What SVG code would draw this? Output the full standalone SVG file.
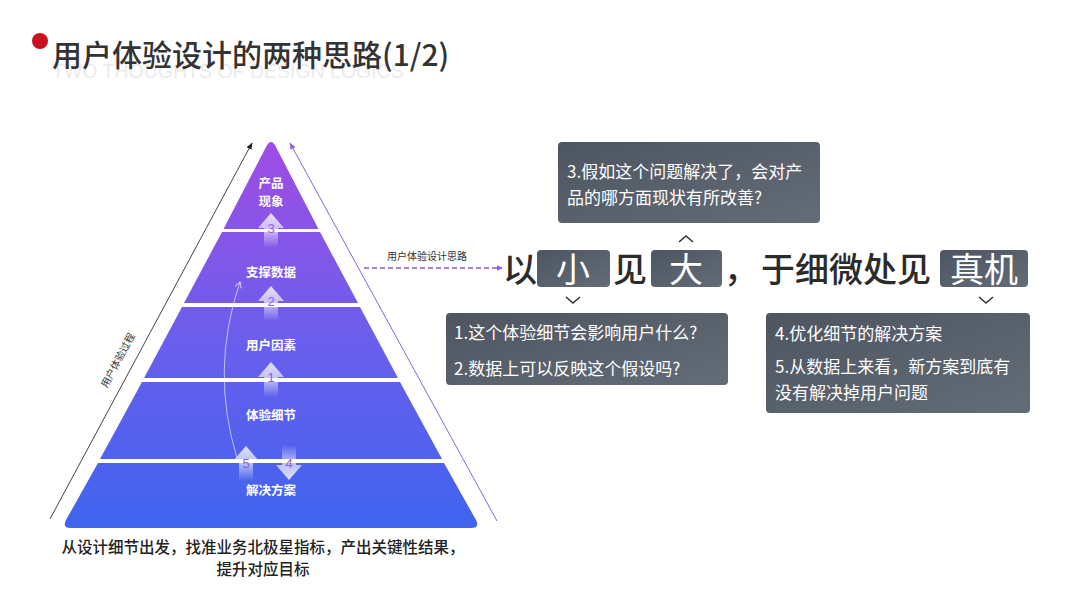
<svg xmlns="http://www.w3.org/2000/svg" width="1080" height="608" viewBox="0 0 1080 608">
<defs>
<linearGradient id="pyr" gradientUnits="userSpaceOnUse" x1="0" y1="140" x2="0" y2="528">
<stop offset="0" stop-color="#a04ce4"/>
<stop offset="0.5" stop-color="#6c5eec"/>
<stop offset="1" stop-color="#3f64ef"/>
</linearGradient>
<linearGradient id="box" x1="0" y1="0" x2="1" y2="1">
<stop offset="0" stop-color="#4d5561"/>
<stop offset="1" stop-color="#646c78"/>
</linearGradient>
<linearGradient id="upfade" x1="0" y1="0" x2="0" y2="1">
<stop offset="0" stop-color="#ffffff" stop-opacity="0.8"/>
<stop offset="0.5" stop-color="#ffffff" stop-opacity="0.6"/>
<stop offset="1" stop-color="#ffffff" stop-opacity="0"/>
</linearGradient>
<linearGradient id="downfade" x1="0" y1="1" x2="0" y2="0">
<stop offset="0" stop-color="#ffffff" stop-opacity="0.8"/>
<stop offset="0.5" stop-color="#ffffff" stop-opacity="0.6"/>
<stop offset="1" stop-color="#ffffff" stop-opacity="0"/>
</linearGradient>
<marker id="blackhead" viewBox="0 0 10 10" refX="9" refY="5" markerWidth="7" markerHeight="7" orient="auto">
<path d="M0,1 L10,5 L0,9 Z" fill="#222"/>
</marker>
<marker id="purplehead" viewBox="0 0 10 10" refX="9" refY="5" markerWidth="7" markerHeight="7" orient="auto">
<path d="M0,1 L10,5 L0,9 Z" fill="#8a64dc"/>
</marker>
<marker id="dashhead" viewBox="0 0 10 10" refX="9" refY="5" markerWidth="4" markerHeight="4" orient="auto">
<path d="M0,0 L10,5 L0,10 Z" fill="#8b5ce8"/>
</marker>
<marker id="openhead" viewBox="0 0 10 10" refX="8" refY="5" markerWidth="8" markerHeight="8" orient="auto">
<path d="M1,1 L8,5 L1,9" fill="none" stroke="#ffffff" stroke-opacity="0.7" stroke-width="1.2"/>
</marker>
</defs>
<style>
.cjk{font-family:"Noto Sans CJK SC","Liberation Sans",sans-serif;}
.band{fill:url(#pyr);}
.blabel{font-size:12.5px;fill:#ffffff;text-anchor:middle;font-weight:700;}
.num{font-size:13px;fill:#8a5fe0;text-anchor:middle;font-family:"Liberation Sans",sans-serif;}
.boxr{fill:url(#box);}
.boxt{font-size:17px;fill:#ffffff;}
.big{font-size:34px;fill:#2b2b2b;font-weight:500;}
.bigw{font-size:34px;fill:#ffffff;text-anchor:middle;}
.chev{fill:none;stroke:#333;stroke-width:1.6;}
</style>
<rect width="1080" height="608" fill="#ffffff"/>

<g id="title">
<text x="52" y="78" font-family="Liberation Sans, sans-serif" font-size="19.5" fill="#ebebeb">TWO THOUGHTS OF DESIGN LOGICS</text>
<circle cx="40" cy="41" r="8" fill="#c8101e"/>
<text class="cjk" x="52" y="66" font-size="30" font-weight="500" fill="#333333">用户体验设计的两种思路(1/2)</text>
</g>

<g id="pyramid">
<g id="band-top">
<path class="band" d="M266,147 Q271,137 276,147 L318.5,229 L223.5,229 Z"/>
<text class="cjk blabel" x="271" y="188">产品</text>
<text class="cjk blabel" x="271" y="206">现象</text>
</g>
<g id="band-data">
<path class="band" d="M222,232 L320,232 L358,303 L184,303 Z"/>
<text class="cjk blabel" x="271" y="277">支撑数据</text>
</g>
<g id="band-user">
<path class="band" d="M182,307 L360,307 L398,378 L144,378 Z"/>
<text class="cjk blabel" x="271" y="350">用户因素</text>
</g>
<g id="band-detail">
<path class="band" d="M142,382 L400,382 L442,459 L100,459 Z"/>
<text class="cjk blabel" x="271" y="420">体验细节</text>
</g>
<g id="band-solution">
<path class="band" d="M98,463 L444,463 L476,520 Q480,528 471,528 L71,528 Q62,528 66,520 Z"/>
<text class="cjk blabel" x="271" y="495">解决方案</text>
</g>
</g>

<g id="steps">
<g id="step3">
<path d="M271,213 L284,228 L278,228 L278,248 L264,248 L264,228 L258,228 Z" fill="url(#upfade)"/>
<text class="num" x="271" y="233">3</text>
</g>
<g id="step2">
<path d="M271,286 L284,301 L278,301 L278,321 L264,321 L264,301 L258,301 Z" fill="url(#upfade)"/>
<text class="num" x="271" y="306">2</text>
</g>
<g id="step1">
<path d="M271,362 L284,377 L278,377 L278,397 L264,397 L264,377 L258,377 Z" fill="url(#upfade)"/>
<text class="num" x="271" y="382">1</text>
</g>
<g id="step5">
<path d="M246,446 L259,461 L253,461 L253,481 L239,481 L239,461 L233,461 Z" fill="url(#upfade)"/>
<text class="num" x="246" y="468">5</text>
</g>
<g id="step4">
<path d="M289,480 L302,465 L296,465 L296,445 L282,445 L282,465 L276,465 Z" fill="url(#downfade)"/>
<text class="num" x="289" y="468">4</text>
</g>
</g>

<g id="connectors">
<path d="M237,458 Q210,370 240,282" fill="none" stroke="#ffffff" stroke-opacity="0.6" stroke-width="1" marker-end="url(#openhead)"/>
<line x1="50" y1="519" x2="252" y2="143" stroke="#444" stroke-width="1" marker-end="url(#blackhead)"/>
<line x1="497" y1="521" x2="290" y2="143" stroke="#8a64dc" stroke-width="1" marker-end="url(#purplehead)"/>
<line x1="364" y1="268" x2="502" y2="268" stroke="#8b5ce8" stroke-width="1.5" stroke-dasharray="5,3" marker-end="url(#dashhead)"/>
<path class="chev" d="M679,242 L686,236 L693,242"/>
<path class="chev" d="M566,297 L573,303 L580,297"/>
<path class="chev" d="M979,297 L986,303 L993,297"/>
</g>

<g id="labels">
<text class="cjk" x="427" y="260" font-size="10" fill="#333" text-anchor="middle">用户体验设计思路</text>
<text class="cjk" x="0" y="0" font-size="10" fill="#333" text-anchor="middle" transform="translate(121,362) rotate(-62)">用户体验过程</text>
<text class="cjk" x="263" y="553" font-size="15.5" fill="#222" text-anchor="middle" font-weight="500">从设计细节出发，找准业务北极星指标，产出关键性结果，</text>
<text class="cjk" x="263" y="575" font-size="15.5" fill="#222" text-anchor="middle" font-weight="500">提升对应目标</text>
</g>

<g id="slogan">
<text class="cjk big" x="503" y="282">以</text>
<rect class="boxr" x="537" y="250" width="73" height="37" rx="4"/>
<text class="cjk bigw" x="573" y="282">小</text>
<text class="cjk big" x="613" y="282">见</text>
<rect class="boxr" x="651" y="250" width="71" height="37" rx="4"/>
<text class="cjk bigw" x="686" y="282">大</text>
<text class="cjk big" x="724" y="282">，</text>
<text class="cjk big" x="761" y="282">于细微处见</text>
<rect class="boxr" x="940" y="250" width="88" height="37" rx="4"/>
<text class="cjk bigw" x="984" y="282">真机</text>
</g>

<g id="box-q3">
<rect class="boxr" x="558" y="142" width="262" height="81" rx="4"/>
<text class="cjk boxt" x="567" y="178">3.假如这个问题解决了，会对产</text>
<text class="cjk boxt" x="567" y="204">品的哪方面现状有所改善?</text>
</g>

<g id="box-q12">
<rect class="boxr" x="446" y="313" width="282" height="72" rx="4"/>
<text class="cjk boxt" x="454" y="339">1.这个体验细节会影响用户什么?</text>
<text class="cjk boxt" x="454" y="375">2.数据上可以反映这个假设吗?</text>
</g>

<g id="box-q45">
<rect class="boxr" x="766" y="313" width="264" height="100" rx="4"/>
<text class="cjk boxt" x="775" y="340">4.优化细节的解决方案</text>
<text class="cjk boxt" x="775" y="373">5.从数据上来看，新方案到底有</text>
<text class="cjk boxt" x="775" y="399">没有解决掉用户问题</text>
</g>
</svg>
